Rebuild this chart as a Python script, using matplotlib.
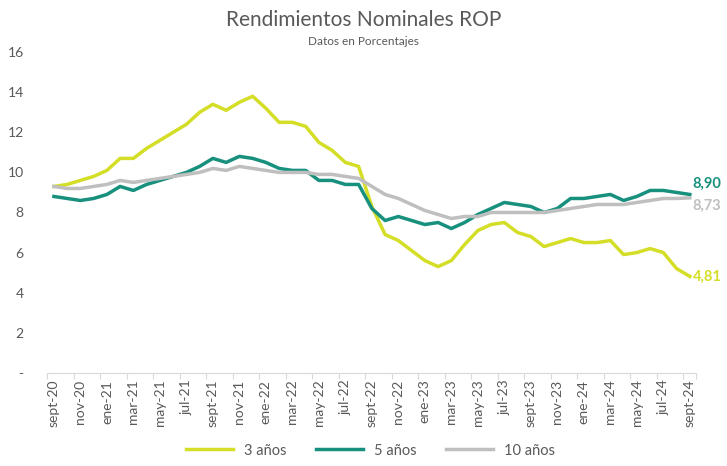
import matplotlib.pyplot as plt
from matplotlib.ticker import FixedLocator

plt.rcParams['font.family'] = ['Lato', 'DejaVu Sans']

months = ['sept-20', 'oct-20', 'nov-20', 'dic-20', 'ene-21', 'feb-21', 'mar-21', 'abr-21',
          'may-21', 'jun-21', 'jul-21', 'ago-21', 'sept-21', 'oct-21', 'nov-21', 'dic-21',
          'ene-22', 'feb-22', 'mar-22', 'abr-22', 'may-22', 'jun-22', 'jul-22', 'ago-22',
          'sept-22', 'oct-22', 'nov-22', 'dic-22', 'ene-23', 'feb-23', 'mar-23', 'abr-23',
          'may-23', 'jun-23', 'jul-23', 'ago-23', 'sept-23', 'oct-23', 'nov-23', 'dic-23',
          'ene-24', 'feb-24', 'mar-24', 'abr-24', 'may-24', 'jun-24', 'jul-24', 'ago-24',
          'sept-24']

y3 = [9.3, 9.4, 9.6, 9.8, 10.1, 10.7, 10.7, 11.2, 11.6, 12.0, 12.4, 13.0, 13.4, 13.1,
      13.5, 13.8, 13.2, 12.5, 12.5, 12.3, 11.5, 11.1, 10.5, 10.3, 8.3, 6.9, 6.6, 6.1,
      5.6, 5.3, 5.6, 6.4, 7.1, 7.4, 7.5, 7.0, 6.8, 6.3, 6.5, 6.7, 6.5, 6.5, 6.6, 5.9,
      6.0, 6.2, 6.0, 5.2, 4.81]
y5 = [8.8, 8.7, 8.6, 8.7, 8.9, 9.3, 9.1, 9.4, 9.6, 9.8, 10.0, 10.3, 10.7, 10.5, 10.8,
      10.7, 10.5, 10.2, 10.1, 10.1, 9.6, 9.6, 9.4, 9.4, 8.2, 7.6, 7.8, 7.6, 7.4, 7.5,
      7.2, 7.5, 7.9, 8.2, 8.5, 8.4, 8.3, 8.0, 8.2, 8.7, 8.7, 8.8, 8.9, 8.6, 8.8, 9.1,
      9.1, 9.0, 8.90]
y10 = [9.3, 9.2, 9.2, 9.3, 9.4, 9.6, 9.5, 9.6, 9.7, 9.8, 9.9, 10.0, 10.2, 10.1, 10.3,
       10.2, 10.1, 10.0, 10.0, 10.0, 9.9, 9.9, 9.8, 9.7, 9.3, 8.9, 8.7, 8.4, 8.1, 7.9,
       7.7, 7.8, 7.8, 8.0, 8.0, 8.0, 8.0, 8.0, 8.1, 8.2, 8.3, 8.4, 8.4, 8.4, 8.5, 8.6,
       8.7, 8.7, 8.73]

c3 = '#d4de26'
c5 = '#18907e'
c10 = '#bfbfbf'
txt = '#595959'

fig = plt.figure(figsize=(7.27, 4.66), dpi=100)
ax = fig.add_axes([0.065, 0.2, 0.893, 0.688])

x = range(len(months))
ax.plot(x, y3, color=c3, lw=2.5, label='3 años', solid_joinstyle='round')
ax.plot(x, y5, color=c5, lw=2.5, label='5 años', solid_joinstyle='round')
ax.plot(x, y10, color=c10, lw=2.5, label='10 años', solid_joinstyle='round')

ax.set_ylim(0, 16)
ax.set_xlim(-0.5, len(months) - 0.5)
ax.set_yticks(range(0, 17, 2))
ax.set_yticklabels(['-'] + [str(v) for v in range(2, 17, 2)])
ax.tick_params(axis='y', length=0, pad=17, labelsize=10, labelcolor=txt)

# labels every 2 months, tick marks at category boundaries
lab_pos = list(range(0, len(months), 2))
ax.xaxis.set_minor_locator(FixedLocator(lab_pos))
ax.xaxis.set_major_locator(FixedLocator([p - 0.5 for p in lab_pos] + [len(months) - 0.5]))
ax.set_xticklabels([], minor=False)
ax.set_xticklabels([months[p] for p in lab_pos], minor=True, rotation=90)
ax.tick_params(axis='x', which='major', length=4, color='#d9d9d9')
ax.tick_params(axis='x', which='minor', length=0, pad=5, labelsize=10, labelcolor=txt)

for s in ['top', 'right', 'left']:
    ax.spines[s].set_visible(False)
ax.spines['bottom'].set_color('#d9d9d9')

n = len(months) - 1
ax.annotate('8,90', (n, y5[-1]), xytext=(2, 8), textcoords='offset points',
            color=c5, fontsize=10.5, fontweight='bold', va='center')
ax.annotate('8,73', (n, y10[-1]), xytext=(2, -6), textcoords='offset points',
            color=c10, fontsize=10.5, fontweight='bold', va='center')
ax.annotate('4,81', (n, y3[-1]), xytext=(2, 0), textcoords='offset points',
            color=c3, fontsize=10.5, fontweight='bold', va='center')

fig.text(0.5, 0.957, 'Rendimientos Nominales ROP', ha='center', va='center',
         fontsize=15, color=txt)
fig.text(0.5, 0.912, 'Datos en Porcentajes', ha='center', va='center',
         fontsize=8.5, color=txt)

fig.legend(loc='lower center', bbox_to_anchor=(0.51, -0.01), ncol=3, frameon=False,
           fontsize=10.5, labelcolor=txt, handlelength=3.2, columnspacing=2.0)

fig.savefig('out.png', dpi=100)
